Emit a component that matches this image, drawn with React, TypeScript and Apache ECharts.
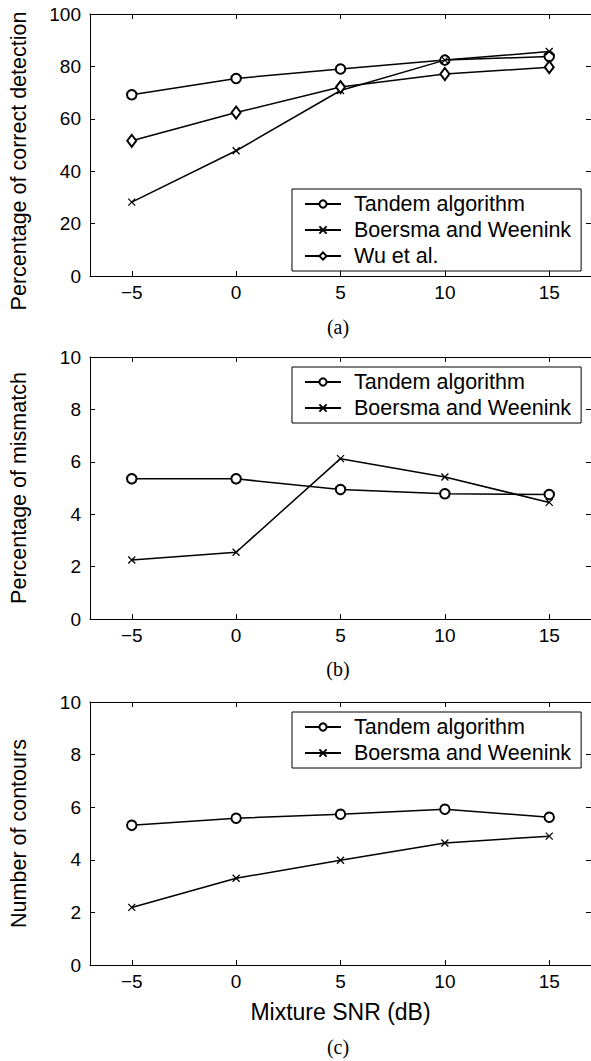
import React, { useEffect, useRef } from 'react';
import * as echarts from 'echarts';

const snr = [-5, 0, 5, 10, 15];
const xTicks = [-5, 0, 5, 10, 15];
const detTandem = [69.2, 75.4, 79.0, 82.4, 83.8];
const detBoersma = [28.2, 47.8, 70.8, 82.4, 85.7];
const detWu = [51.6, 62.4, 72.1, 77.1, 79.7];
const misTandem = [5.35, 5.35, 4.94, 4.78, 4.75];
const misBoersma = [2.25, 2.55, 6.12, 5.42, 4.45];
const conTandem = [5.31, 5.58, 5.73, 5.92, 5.62];
const conBoersma = [2.19, 3.3, 3.98, 4.64, 4.9];
const seriesNames = ['Tandem algorithm', 'Boersma and Weenink', 'Wu et al.'];
const panelLabels = ['(a)', '(b)', '(c)'];
const yNames = ['Percentage of correct detection', 'Percentage of mismatch', 'Number of contours'];
const yMax = [100, 10, 10];
const yStep = [20, 2, 2];
const xName = 'Mixture SNR (dB)';

const SANS = '"Liberation Sans", Arial, Helvetica, sans-serif';
const SERIF = '"Liberation Serif", "Times New Roman", serif';

const gridTops = [14, 357, 702];
const gridHeights = [262, 262, 263];
const labelY = [327, 669, 1047];
const yNamePad = [[0, 32, 0, 0], [0, 0, 0, 0], [0, 0, 0, 0]];

const symbols: Record<string, any> = {
  'Tandem algorithm': { symbol: 'emptyCircle', symbolSize: 9.5 },
  'Boersma and Weenink': { symbol: 'path://M0,0L10,10M10,0L0,10', symbolSize: 7 },
  'Wu et al.': { symbol: 'emptyDiamond', symbolSize: [9, 12] },
};

export default function App() {
  const ref = useRef<HTMLDivElement>(null);
  useEffect(() => {
    if (!ref.current) return;
    const chart = echarts.init(ref.current, undefined, { renderer: 'svg' });
    const panels = [
      [detTandem, detBoersma, detWu],
      [misTandem, misBoersma],
      [conTandem, conBoersma],
    ];
    const grid: any[] = [];
    const xAxis: any[] = [];
    const yAxis: any[] = [];
    const series: any[] = [];
    const legend: any[] = [];
    const graphic: any[] = [];
    const axisLine = { show: true, onZero: false, lineStyle: { color: '#000', width: 1 } };
    const tickFont = { fontSize: 19, fontFamily: SANS, color: '#000' };
    panels.forEach((vals, i) => {
      grid.push({ left: 89, width: 503, top: gridTops[i], height: gridHeights[i] });
      xAxis.push({
        gridIndex: i, type: 'value', min: -7, max: 17, position: 'bottom',
        axisLine, splitLine: { show: false },
        axisTick: { show: true, inside: true, length: 5, customValues: xTicks, lineStyle: { color: '#000' } },
        axisLabel: {
          show: true, customValues: xTicks, margin: 7, ...tickFont,
          formatter: (v: number) => String(v).replace('-', '\u2212'),
        },
        name: i === 2 ? xName : '', nameLocation: 'middle', nameGap: 35,
        nameTextStyle: { fontSize: 23, fontFamily: SANS, color: '#000' },
      });
      xAxis.push({
        gridIndex: i, type: 'value', min: -7, max: 17, position: 'top',
        axisLine, splitLine: { show: false },
        axisTick: { show: true, inside: true, length: 5, customValues: xTicks, lineStyle: { color: '#000' } },
        axisLabel: { show: false },
      });
      yAxis.push({
        gridIndex: i, type: 'value', min: 0, max: yMax[i], interval: yStep[i], position: 'left',
        axisLine, splitLine: { show: false },
        axisTick: { show: true, inside: true, length: 5, lineStyle: { color: '#000' } },
        axisLabel: { show: true, margin: 9, ...tickFont },
        name: yNames[i], nameLocation: 'middle', nameGap: 60,
        nameTextStyle: { fontSize: 21.5, fontFamily: SANS, color: '#000', padding: yNamePad[i] },
      });
      yAxis.push({
        gridIndex: i, type: 'value', min: 0, max: yMax[i], interval: yStep[i], position: 'right',
        axisLine, splitLine: { show: false },
        axisTick: { show: true, inside: true, length: 5, lineStyle: { color: '#000' } },
        axisLabel: { show: false },
      });
      vals.forEach((arr, k) => {
        const name = seriesNames[k];
        series.push({
          type: 'line', name, xAxisIndex: 2 * i, yAxisIndex: 2 * i,
          data: snr.map((x, j) => [x, arr[j]]),
          ...symbols[name],
          showAllSymbol: true,
          lineStyle: { color: '#000', width: 1.5 },
          itemStyle: { color: '#000', borderColor: '#000', borderWidth: 1.3 },
          z: 3 + k,
        });
      });
      legend.push({
        orient: 'vertical', left: 292, top: gridTops[i] + (i === 0 ? 175 : 10),
        data: seriesNames.slice(0, vals.length),
        itemWidth: 36, itemHeight: 9, itemGap: 4,
        padding: [4, 10, 4, 12],
        borderColor: '#000', borderWidth: 1, backgroundColor: '#fff',
        selectedMode: false,
        textStyle: { fontSize: 21.5, fontFamily: SANS, color: '#000', lineHeight: 21, padding: [0, 0, 0, 8] },
      });
      graphic.push({
        type: 'text', x: 338, y: labelY[i],
        style: { text: panelLabels[i], font: '20px ' + SERIF, fill: '#000', textAlign: 'center', textVerticalAlign: 'middle' },
      });
    });
    chart.setOption({
      animation: false,
      backgroundColor: '#fff',
      grid, xAxis, yAxis, series, legend, graphic,
    });
    return () => chart.dispose();
  }, []);
  return <div ref={ref} style={{ position: 'absolute', left: 0, top: 0, width: 591, height: 1061 }} />;
}
